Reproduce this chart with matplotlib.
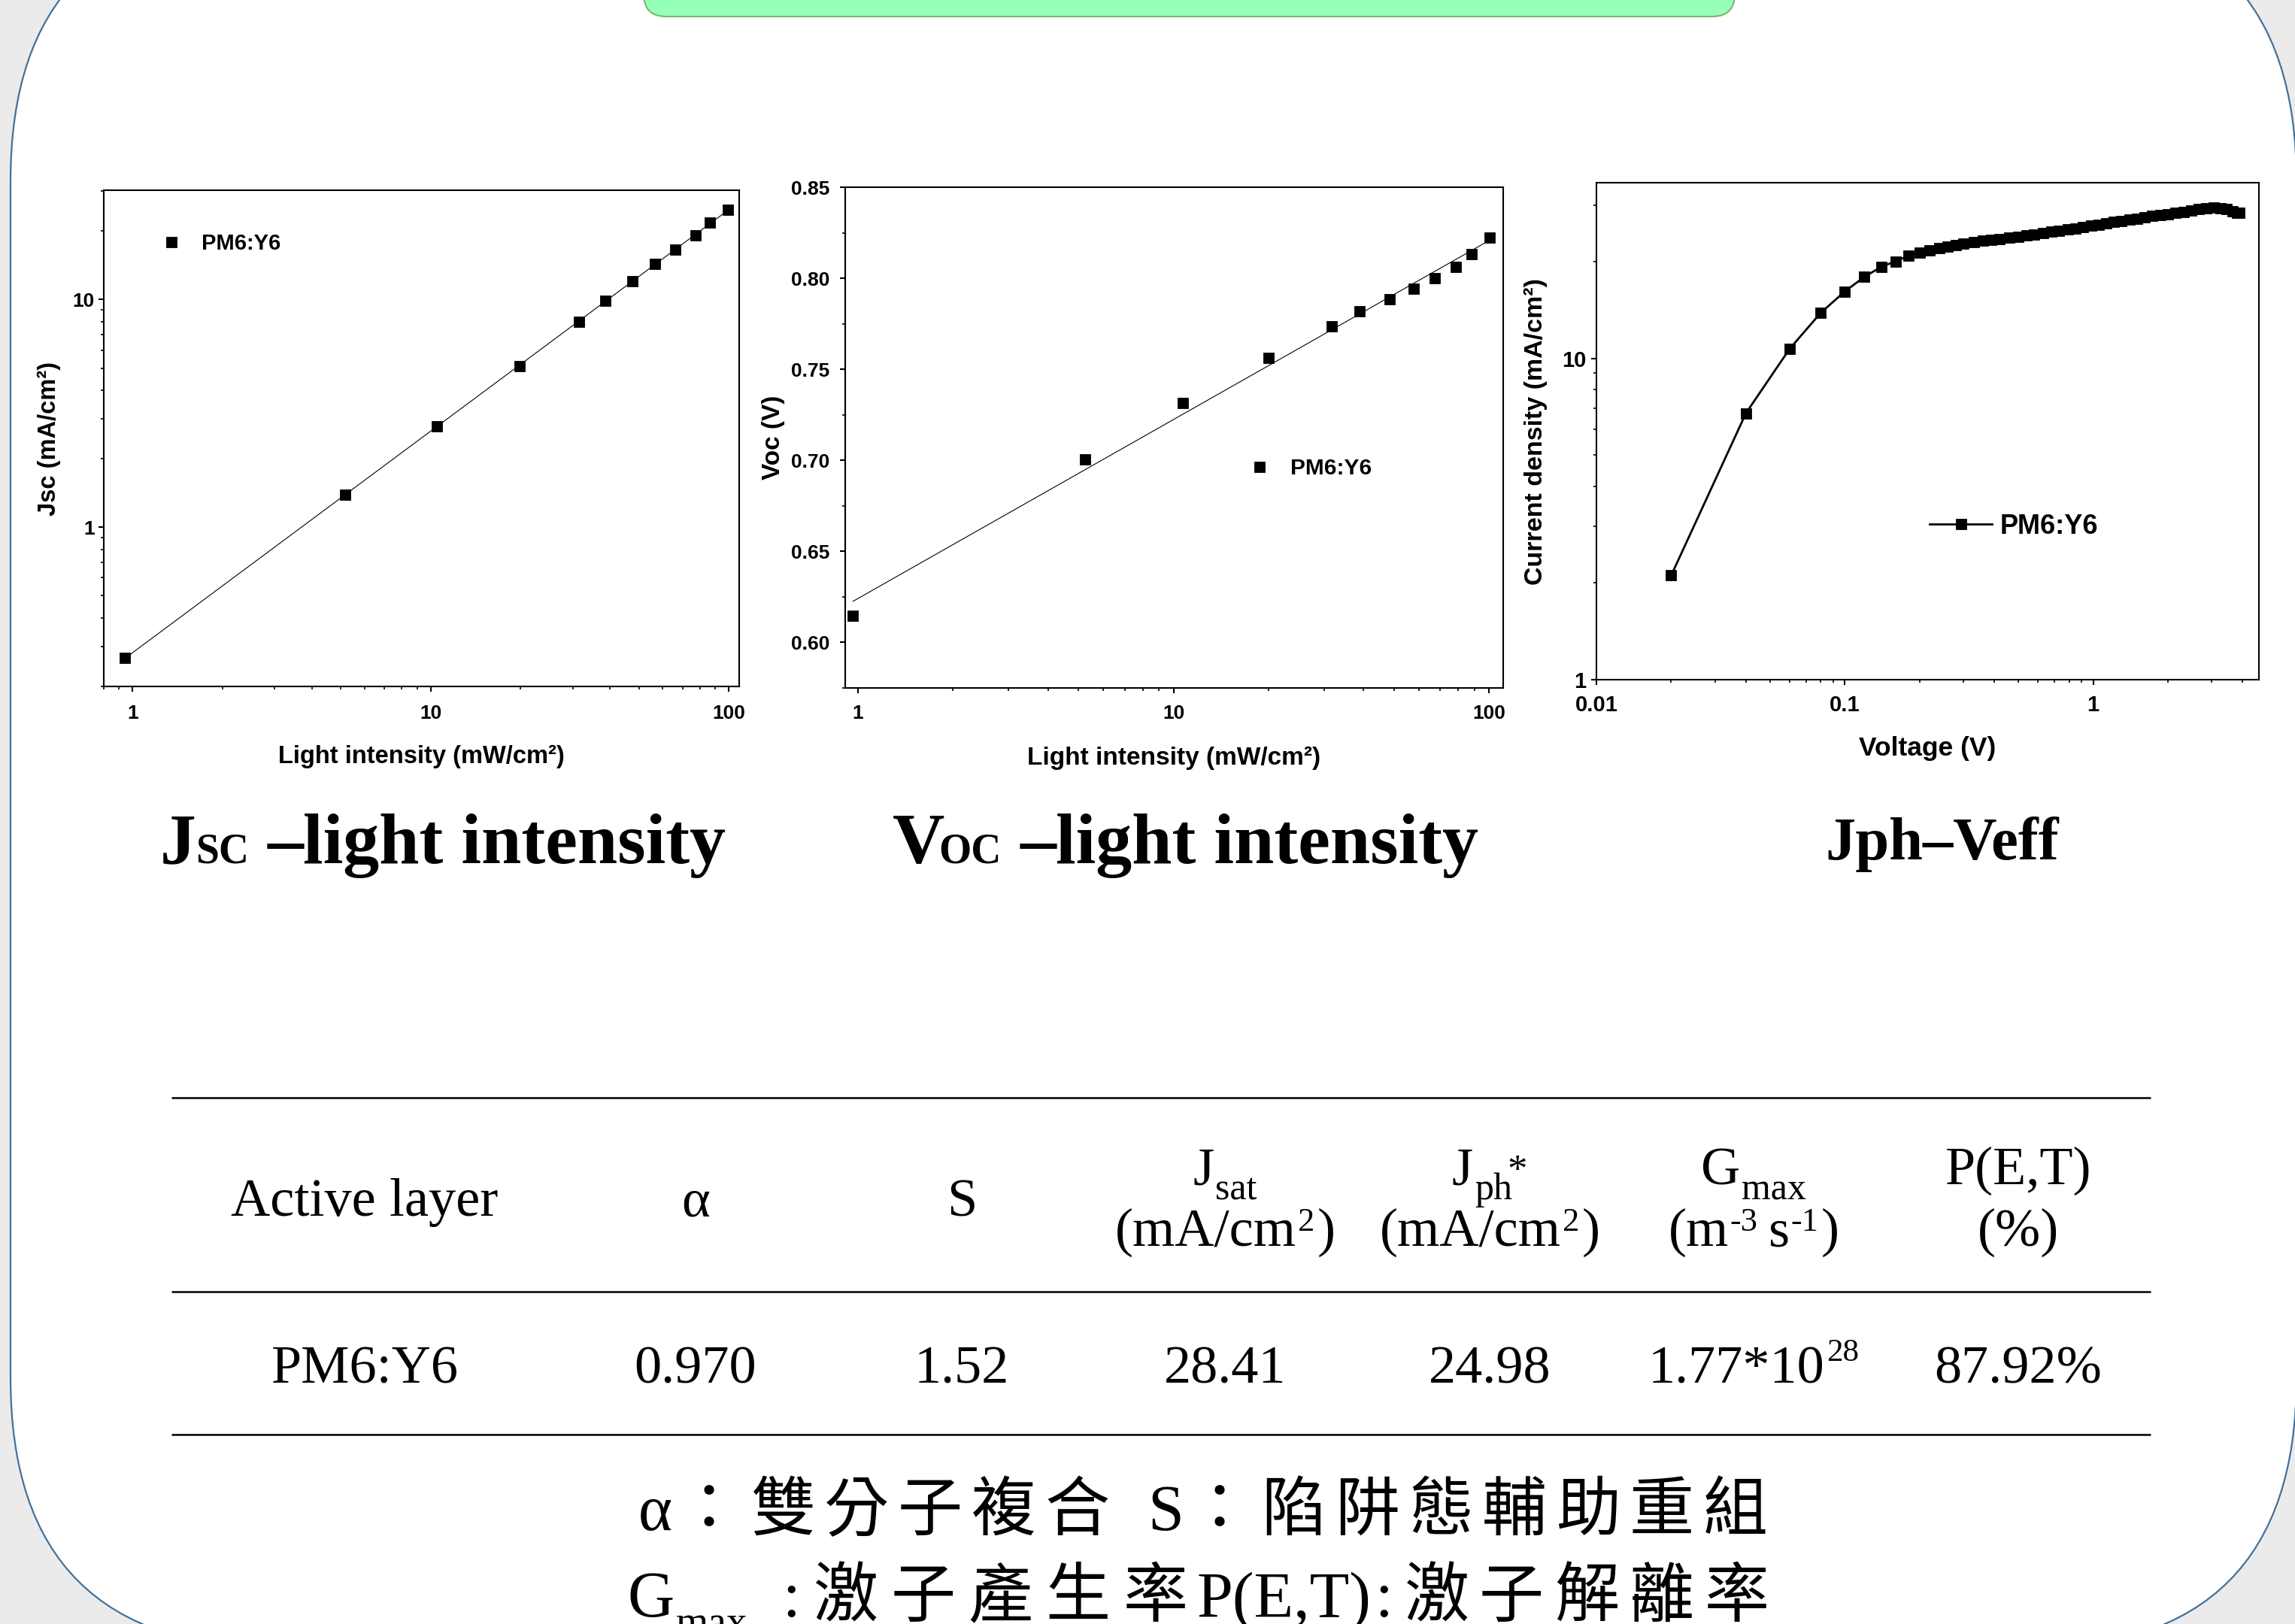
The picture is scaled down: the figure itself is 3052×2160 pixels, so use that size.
import matplotlib
matplotlib.use("Agg")
import matplotlib.pyplot as plt
import numpy as np
from matplotlib.patches import FancyBboxPatch
from matplotlib.ticker import LogLocator, NullFormatter, AutoMinorLocator

plt.rcParams['font.family'] = ['Liberation Sans', 'Noto Sans CJK TC', 'DejaVu Sans']

# ---------------- data ----------------
intensity_jsc = [0.941, 5.18, 10.49, 19.85, 31.4, 38.5, 47.5, 56.6, 66.4, 77.4, 86.7, 99.6]
jsc = [0.267, 1.386, 2.766, 5.11, 7.98, 9.85, 12.05, 14.3, 16.6, 19.2, 21.8, 24.7]

intensity_voc = [0.965, 5.26, 10.7, 20.0, 31.7, 38.8, 48.3, 57.7, 67.3, 78.5, 87.9, 100.7]
voc = [0.6147, 0.7007, 0.7316, 0.7563, 0.7738, 0.7818, 0.7885, 0.7944, 0.8001, 0.8062, 0.8134, 0.8224]

veff = [0.02, 0.04, 0.06, 0.08, 0.10, 0.12, 0.14, 0.16, 0.18, 0.20, 0.22, 0.24, 0.26, 0.28,
        0.30, 0.33, 0.36, 0.39, 0.42, 0.46, 0.50, 0.54, 0.58, 0.63, 0.68, 0.73, 0.79, 0.85,
        0.91, 0.98, 1.05, 1.13, 1.21, 1.30, 1.40, 1.50, 1.61, 1.73, 1.86, 2.00, 2.15, 2.31,
        2.48, 2.66, 2.85, 3.05, 3.25, 3.45, 3.65, 3.80, 3.88]
jph = [2.11, 6.75, 10.71, 13.85, 16.15, 17.93, 19.25, 20.04, 20.84, 21.35, 21.7, 22.05, 22.3, 22.55,
       22.75, 23.0, 23.2, 23.35, 23.5, 23.7, 23.9, 24.1, 24.3, 24.55, 24.8, 25.0, 25.2, 25.4,
       25.6, 25.85, 26.05, 26.3, 26.55, 26.8, 27.05, 27.25, 27.45, 27.7, 27.9, 28.1, 28.3, 28.6,
       28.9, 29.15, 29.35, 29.4, 29.3, 29.1, 28.7, 28.4, 28.3]

series_name = 'PM6:Y6'
table_values = ['PM6:Y6', '0.970', '1.52', '28.41', '24.98', '1.77*10', '87.92%']
gmax_exp = '28'

# ---------------- figure ----------------
W, H = 3052, 2160
fig = plt.figure(figsize=(W / 100, H / 100), dpi=100)
fig.patch.set_facecolor('#ebebeb')

SERIF = 'Liberation Serif'
SANS = 'Liberation Sans'
CJK = 'Noto Sans CJK TC'

bg = fig.add_axes([0, 0, 1, 1])
bg.set_xlim(0, W)
bg.set_ylim(H, 0)
bg.axis('off')
bg.set_zorder(-5)
bg.add_patch(FancyBboxPatch((14, -119), 3054 - 14, 2193 + 119,
                            boxstyle='round,pad=0,rounding_size=360',
                            fc='white', ec='#41719c', lw=1.6))
bg.add_patch(FancyBboxPatch((856, -100), 2307 - 856, 122,
                            boxstyle='round,pad=0,rounding_size=30',
                            fc='#96ffba', ec='#7ab56e', lw=1.5))
for yl in [1460, 1718, 1908]:
    bg.plot([228, 2860], [yl, yl], color='black', lw=1.8, solid_capstyle='butt')


def px_axes(l, t, r, b):
    return fig.add_axes([l / W, 1 - b / H, (r - l) / W, (b - t) / H])


def setup(ax, xpad, ypad):
    for s in ax.spines.values():
        s.set_linewidth(1.5)
    ax.tick_params(which='both', direction='out', top=False, right=False)
    ax.tick_params(which='major', length=5, width=1.5)
    ax.tick_params(which='minor', length=3, width=1.2)
    ax.tick_params(axis='x', which='major', pad=xpad)
    ax.tick_params(axis='y', which='major', pad=ypad)


def set_ticks(ax, axis, vals, labels, size):
    fd = dict(fontsize=size, fontweight='bold', family=SANS)
    if axis == 'x':
        ax.set_xticks(vals)
        ax.set_xticklabels(labels, **fd)
        ax.xaxis.set_minor_formatter(NullFormatter())
    else:
        ax.set_yticks(vals)
        ax.set_yticklabels(labels, **fd)
        ax.yaxis.set_minor_formatter(NullFormatter())


lab = dict(fontweight='bold', family=SANS)

# ---- plot 1: Jsc vs light intensity ----
ax1 = px_axes(138, 253, 983, 913)
ax1.set_xscale('log'); ax1.set_yscale('log')
lx, ly = np.log10(intensity_jsc), np.log10(jsc)
k1, b1 = np.polyfit(lx, ly, 1)
xf = np.array([min(intensity_jsc), max(intensity_jsc)])
ax1.plot(xf, 10 ** (k1 * np.log10(xf) + b1), color='black', lw=0.8)
ax1.plot(intensity_jsc, jsc, 's', color='black', ms=9.5, mew=0.6, label=series_name)
ax1.set_xlim(0.8, 108.5); ax1.set_ylim(0.2, 30.2)
setup(ax1, 12.5, 3.8)
ax1.xaxis.set_minor_locator(LogLocator(base=10, subs=np.arange(2, 10), numticks=50))
ax1.yaxis.set_minor_locator(LogLocator(base=10, subs=np.arange(2, 10), numticks=50))
set_ticks(ax1, 'x', [1, 10, 100], ['1', '10', '100'], 19)
set_ticks(ax1, 'y', [1, 10], ['1', '10'], 19)
ax1.set_xlabel('Light intensity (mW/cm²)', fontsize=23.5, va='top', **lab)
ax1.xaxis.set_label_coords(0.5, -0.118)
ax1.set_ylabel('Jsc (mA/cm²)', fontsize=23.5, va='center', **lab)
ax1.yaxis.set_label_coords(-0.086, 0.5)
ax1.legend(loc='center left', bbox_to_anchor=(0.0888, 0.892), frameon=False, borderpad=0,
           borderaxespad=0, handlelength=1.0, handletextpad=0.9,
           prop=dict(family=SANS, weight='bold', size=21))

# ---- plot 2: Voc vs light intensity ----
ax2 = px_axes(1124, 249, 1999, 915)
ax2.set_xscale('log')
k2, b2 = np.polyfit(np.log10(intensity_voc), voc, 1)
xf2 = np.array([min(intensity_voc), max(intensity_voc)])
ax2.plot(xf2, k2 * np.log10(xf2) + b2, color='black', lw=0.8)
ax2.plot(intensity_voc, voc, 's', color='black', ms=9.5, mew=0.6, label=series_name)
ax2.set_xlim(0.911, 110.9); ax2.set_ylim(0.575, 0.85)
setup(ax2, 10.8, 10)
ax2.xaxis.set_minor_locator(LogLocator(base=10, subs=np.arange(2, 10), numticks=50))
yt2 = [0.60, 0.65, 0.70, 0.75, 0.80, 0.85]
set_ticks(ax2, 'x', [1, 10, 100], ['1', '10', '100'], 19)
set_ticks(ax2, 'y', yt2, ['%.2f' % v for v in yt2], 19)
ax2.yaxis.set_minor_locator(AutoMinorLocator(2))
ax2.set_xlabel('Light intensity (mW/cm²)', fontsize=24, va='top', **lab)
ax2.xaxis.set_label_coords(0.5, -0.117)
ax2.set_ylabel('Voc (V)', fontsize=24, va='center', **lab)
ax2.yaxis.set_label_coords(-0.1097, 0.5)
ax2.legend(loc='center left', bbox_to_anchor=(0.6126, 0.4384), frameon=False, borderpad=0,
           borderaxespad=0, handlelength=1.0, handletextpad=0.87,
           prop=dict(family=SANS, weight='bold', size=21.5))

# ---- plot 3: Jph vs Veff ----
ax3 = px_axes(2123, 243, 3004, 904)
ax3.set_xscale('log'); ax3.set_yscale('log')
ax3.plot(veff, jph, '-s', color='black', lw=2, ms=10, mew=0.6, label=series_name)
ax3.set_xlim(0.01, 4.65); ax3.set_ylim(1, 35.2)
setup(ax3, 9.4, 5)
ax3.xaxis.set_minor_locator(LogLocator(base=10, subs=np.arange(2, 10), numticks=50))
ax3.yaxis.set_minor_locator(LogLocator(base=10, subs=np.arange(2, 10), numticks=50))
set_ticks(ax3, 'x', [0.01, 0.1, 1], ['0.01', '0.1', '1'], 21)
set_ticks(ax3, 'y', [1, 10], ['1', '10'], 21)
ax3.set_xlabel('Voltage (V)', fontsize=25.5, va='top', **lab)
ax3.xaxis.set_label_coords(0.5, -0.113)
ax3.set_ylabel('Current density (mA/cm²)', fontsize=24.5, va='center', **lab)
ax3.yaxis.set_label_coords(-0.092, 0.5)
ax3.legend(loc='center left', bbox_to_anchor=(0.503, 0.3086), frameon=False, borderpad=0,
           borderaxespad=0, handlelength=2.3, handletextpad=0.3,
           prop=dict(family=SANS, weight='bold', size=26))

# ---------------- rich text helper ----------------
renderer = fig.canvas.get_renderer()


def place(items, baseline, x0=0, cx=None):
    objs = []
    cur = x0
    for it in items:
        if 'at' in it:
            cur = it['at']
        else:
            cur += it.get('gap', 0)
        kw = dict(fontsize=it['size'], family=it.get('family', SERIF),
                  fontweight=it.get('weight', 'normal'), color='black')
        pitch = it.get('pitch')
        if pitch:
            for i, ch in enumerate(it['text']):
                t = fig.text(0, 0, ch, ha='center', va='baseline', **kw)
                objs.append((t, cur + (i + 0.5) * pitch, it.get('dy', 0)))
            cur += pitch * len(it['text'])
        else:
            t = fig.text(0, 0, it['text'], ha='left', va='baseline', **kw)
            w = t.get_window_extent(renderer=renderer).width
            objs.append((t, cur, it.get('dy', 0)))
            cur += w
    shift = 0 if cx is None else cx - (cur - x0) / 2 - x0
    for t, xx, dy in objs:
        t.set_position(((xx + shift) / W, 1 - (baseline + dy) / H))


# titles under plots
B = 'bold'
place([dict(text='J', size=69, weight=B), dict(text='SC', size=40, weight=B, gap=-1),
       dict(text='–light intensity', size=69, weight=B, gap=25)], 1148, x0=213)
place([dict(text='V', size=69, weight=B), dict(text='OC', size=40, weight=B, gap=-8),
       dict(text='–light intensity', size=69, weight=B, gap=25)], 1148, x0=1187)
place([dict(text='Jph–Veff', size=58, weight=B)], 1143, x0=2427)

# table
FS, SUB = 52, 36
cols = [485, 925, 1279, 1629, 1981, 2332, 2684]
place([dict(text='Active layer', size=FS)], 1617, cx=cols[0])
place([dict(text='α', size=FS)], 1617, cx=cols[1])
place([dict(text='S', size=FS)], 1617, cx=cols[2])
place([dict(text='J', size=FS), dict(text='sat', size=SUB, dy=20, gap=2)], 1575, cx=cols[3])
place([dict(text='J', size=FS), dict(text='ph', size=SUB, dy=20, gap=2),
       dict(text='*', size=38, dy=-3, gap=-6)], 1575, cx=cols[4])
place([dict(text='G', size=FS), dict(text='max', size=SUB, dy=20, gap=2)], 1575, cx=cols[5])
place([dict(text='P(E,T)', size=FS)], 1575, cx=cols[6])
for c in (cols[3], cols[4]):
    place([dict(text='(mA/cm', size=FS), dict(text='2', size=32, dy=-20, gap=2),
           dict(text=')', size=FS, gap=3)], 1657, cx=c)
place([dict(text='(m', size=FS), dict(text='-3', size=32, dy=-20, gap=2),
       dict(text='s', size=FS, gap=14), dict(text='-1', size=32, dy=-20, gap=2),
       dict(text=')', size=FS, gap=3)], 1657, cx=cols[5])
place([dict(text='(%)', size=FS)], 1657, cx=cols[6])

for i, v in enumerate(table_values):
    if i == 5:
        place([dict(text=v, size=FS), dict(text=gmax_exp, size=31, dy=-30, gap=2)], 1840, cx=cols[i])
    else:
        place([dict(text=v, size=FS)], 1840, cx=cols[i])

# footnotes
place([dict(text='α', size=62, at=849),
       dict(text='：雙分子複合', size=62, family=CJK, pitch=98, at=894),
       dict(text='S', size=62, at=1526),
       dict(text='：陷阱態輔助重組', size=62, family=CJK, pitch=98, at=1573)], 2035)
place([dict(text='G', size=62, at=835),
       dict(text='max', size=40, dy=25, gap=2),
       dict(text=':', size=62, at=1040),
       dict(text='激子產生率', size=62, family=CJK, pitch=103, at=1073),
       dict(text='P(E,T)', size=62, at=1592),
       dict(text=':', size=62, gap=4),
       dict(text='激子解離率', size=62, family=CJK, pitch=100, at=1860)], 2150)

fig.savefig('out.png', dpi=100, facecolor=fig.get_facecolor())
